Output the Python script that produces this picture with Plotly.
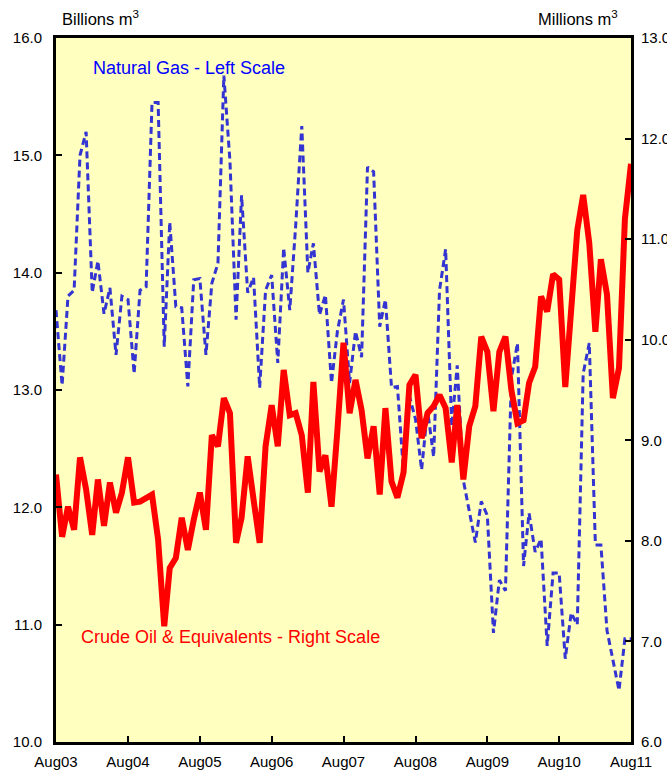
import plotly.graph_objects as go
import pandas as pd

# Monthly observations, Aug 2003 .. Aug 2011
months = pd.date_range("2003-08-01", "2011-08-01", freq="MS")

# Natural gas, billions m3 (left scale)
gas = [13.68, 13.04, 13.80, 13.85, 15.00, 15.20, 13.83, 14.10, 13.65, 13.87,
       13.30, 13.80, 13.77, 13.14, 13.85, 13.88, 15.45, 15.45, 13.37, 14.43,
       13.71, 13.70, 13.03, 13.94, 13.95, 13.30, 13.91, 14.08, 15.68, 14.95,
       13.60, 14.66, 13.83, 13.96, 13.02, 13.85, 13.98, 13.23, 14.21, 13.68,
       14.40, 15.25, 14.00, 14.25, 13.64, 13.81, 13.06, 13.50, 13.77, 13.06,
       13.50, 13.28, 14.90, 14.86, 13.54, 13.77, 13.02, 13.03, 12.30, 12.95,
       12.75, 12.32, 12.83, 12.43, 13.85, 14.20, 12.69, 13.21, 12.23, 11.98,
       11.70, 12.05, 11.93, 10.93, 11.38, 11.29, 13.10, 13.40, 11.50, 11.95,
       11.62, 11.73, 10.82, 11.44, 11.44, 10.71, 11.10, 11.00, 13.14, 13.40,
       11.68, 11.68, 10.95, 10.70, 10.44, 10.88, 10.88]

# Crude oil & equivalents, millions m3 (right scale)
oil = [8.66, 8.04, 8.34, 8.11, 8.83, 8.51, 8.06, 8.61, 8.15, 8.58,
       8.28, 8.48, 8.83, 8.38, 8.39, 8.43, 8.46, 8.01, 7.15, 7.73,
       7.83, 8.23, 7.91, 8.21, 8.48, 8.11, 9.05, 8.94, 9.42, 9.27,
       7.98, 8.23, 8.84, 8.41, 7.98, 8.94, 9.35, 8.94, 9.70, 9.25,
       9.27, 9.05, 8.48, 9.58, 8.69, 8.85, 8.34, 9.10, 9.97, 9.27,
       9.60, 9.30, 8.82, 9.14, 8.46, 9.32, 8.59, 8.43, 8.68, 9.55,
       9.65, 9.02, 9.27, 9.34, 9.45, 9.32, 8.78, 9.35, 8.61, 9.14,
       9.34, 10.03, 9.88, 9.29, 9.88, 10.03, 9.50, 9.17, 9.20, 9.57,
       9.73, 10.43, 10.28, 10.65, 10.60, 9.53, 10.34, 11.09, 11.44, 10.96,
       10.08, 10.80, 10.45, 9.42, 9.72, 11.20, 11.75]

tick_dates = pd.date_range("2003-08-01", "2011-08-01", freq="12MS")
tick_text = ["Aug03", "Aug04", "Aug05", "Aug06", "Aug07", "Aug08", "Aug09", "Aug10", "Aug11"]

font = "Liberation Sans, Arial, sans-serif"

fig = go.Figure()
fig.add_trace(go.Scatter(x=months, y=oil, yaxis="y2", mode="lines",
                         line=dict(color="#FF0000", width=6), name="Crude Oil"))
fig.add_trace(go.Scatter(x=months, y=gas, yaxis="y", mode="lines",
                         line=dict(color="#3434D2", width=3, dash="7px,4px"), name="Natural Gas"))

axis_common = dict(showgrid=False, zeroline=False, showline=True, linecolor="black",
                   linewidth=3, ticks="inside", ticklen=6, tickwidth=2, tickcolor="black",
                   automargin=False, tickfont=dict(size=15, color="black"))

fig.update_layout(
    width=667, height=771,
    margin=dict(l=56, r=36, t=38, b=29, autoexpand=False),
    paper_bgcolor="white",
    plot_bgcolor="#FFFFC0",
    showlegend=False,
    font=dict(family=font, size=15, color="black"),
    xaxis=dict(range=[months[0], months[-1]], tickvals=tick_dates, ticktext=tick_text,
               mirror=True, ticklabelstandoff=4, **axis_common),
    yaxis=dict(range=[10, 16], dtick=1, tickformat=".1f", ticklabelstandoff=8, **axis_common),
    yaxis2=dict(range=[6, 13], dtick=1, tickformat=".1f", overlaying="y", side="right",
                ticklabelstandoff=4, **axis_common),
    annotations=[
        dict(text="Billions m<sup>3</sup>", xref="paper", yref="paper", x=0.007, y=1.0,
             yshift=20, xanchor="left", yanchor="middle", showarrow=False,
             font=dict(size=16.5, color="black")),
        dict(text="Millions m<sup>3</sup>", xref="paper", yref="paper", x=0.98, y=1.0,
             yshift=20, xanchor="right", yanchor="middle", showarrow=False,
             font=dict(size=16.5, color="black")),
        dict(text="Natural Gas - Left Scale", xref="paper", yref="paper", x=0.06, y=0.958,
             xanchor="left", yanchor="middle", showarrow=False,
             font=dict(size=18, color="#0000FF")),
        dict(text="Crude Oil & Equivalents - Right Scale", xref="paper", yref="paper", x=0.04,
             y=0.149, xanchor="left", yanchor="middle", showarrow=False,
             font=dict(size=18, color="#FF0000")),
    ],
)

fig.write_html("out.html", config={"displayModeBar": False},
               post_script="document.body.style.margin='0';")
